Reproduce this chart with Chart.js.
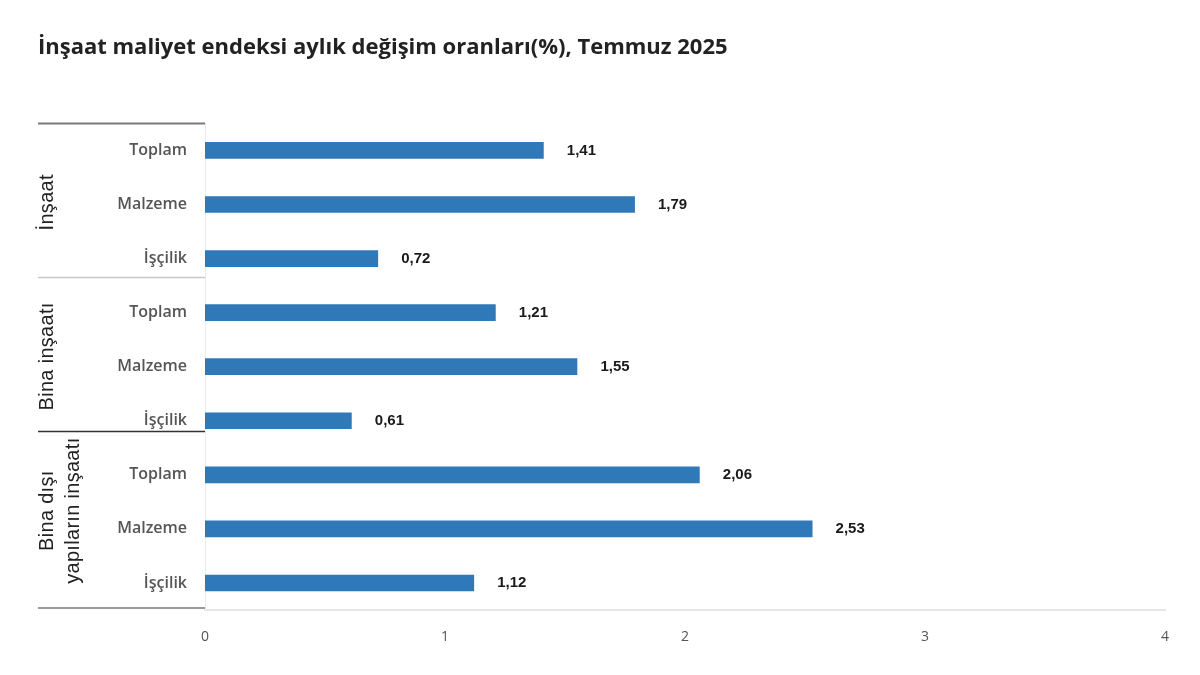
<!DOCTYPE html>
<html>
<head>
<meta charset="utf-8">
<script src="https://cdn.jsdelivr.net/npm/chart.js@4.4.1/dist/chart.umd.min.js"></script>
<style>
  html, body { margin: 0; padding: 0; background: #fff; }
  #wrap { width: 1200px; height: 675px; position: relative; }
</style>
</head>
<body>
<div id="wrap"><canvas id="chart"></canvas></div>
<script>
// data
const groups = ["İnşaat", "Bina inşaatı", ["Bina dışı", "yapıların inşaatı"]];
const categories = ["Toplam", "Malzeme", "İşçilik", "Toplam", "Malzeme", "İşçilik", "Toplam", "Malzeme", "İşçilik"];
const values = [1.41, 1.79, 0.72, 1.21, 1.55, 0.61, 2.06, 2.53, 1.12];
const xTicks = [0, 1, 2, 3, 4];

const perGroup = 3;

// value labels to the right of each bar
const barLabels = {
  id: "barLabels",
  afterDatasetsDraw(chart) {
    const ctx = chart.ctx;
    const meta = chart.getDatasetMeta(0);
    ctx.save();
    ctx.font = "bold 15px 'Liberation Sans', Arial, sans-serif";
    ctx.fillStyle = "#1a1a1a";
    ctx.textAlign = "center";
    ctx.textBaseline = "middle";
    meta.data.forEach((bar, i) => {
      ctx.fillText(values[i].toFixed(2).replace(".", ","), bar.x + 38, bar.y);
    });
    ctx.restore();
  }
};

// text with a bit of spacing between letters, centred on 0
function spacedText(ctx, text, y, gap) {
  const chars = Array.from(text);
  const widths = chars.map(c => ctx.measureText(c).width);
  const total = widths.reduce((a, b) => a + b, 0) + gap * (chars.length - 1);
  let x = -total / 2;
  chars.forEach((c, i) => {
    ctx.fillText(c, x, y);
    x += widths[i] + gap;
  });
}

// group labels + separator lines on the left
const groupAxis = {
  id: "groupAxis",
  afterDraw(chart) {
    const ctx = chart.ctx;
    const y = chart.scales.y;
    const area = chart.chartArea;
    const left = 38;
    const step = y.getPixelForValue(1) - y.getPixelForValue(0);
    // separators sit a bit below the last bar of each group, like the original
    const offs = [0, 0.35, 0.2];
    const edges = [area.top];
    for (let g = 1; g < groups.length; g++) {
      edges.push(y.getPixelForValue(g * perGroup - 1) + step * offs[g]);
    }
    edges.push(area.bottom - 2);
    const lineColors = ["#7a7a7a", "#c8c8c8", "#333333", "#9a9a9a"];
    const lineWidths = [2, 1.5, 1.5, 2];
    ctx.save();
    edges.forEach((ey, i) => {
      ctx.beginPath();
      ctx.strokeStyle = lineColors[i];
      ctx.lineWidth = lineWidths[i];
      ctx.moveTo(left, ey);
      ctx.lineTo(area.left, ey);
      ctx.stroke();
    });
    ctx.font = "20px 'Liberation Sans', Arial, sans-serif";
    ctx.fillStyle = "#222";
    ctx.textAlign = "left";
    ctx.textBaseline = "middle";
    groups.forEach((g, i) => {
      const lines = Array.isArray(g) ? g : [g];
      const cy = (edges[i] + edges[i + 1]) / 2 + (lines.length > 1 ? -9 : 2);
      ctx.save();
      ctx.translate(47, cy);
      ctx.rotate(-Math.PI / 2);
      lines.forEach((t, k) => spacedText(ctx, t, k * 26, 0.3));
      ctx.restore();
    });
    ctx.restore();
  }
};

new Chart(document.getElementById("chart"), {
  type: "bar",
  data: {
    labels: categories,
    datasets: [{
      data: values,
      backgroundColor: "#2f79b9",
      borderWidth: 0,
      barThickness: 16
    }]
  },
  options: {
    indexAxis: "y",
    responsive: true,
    maintainAspectRatio: false,
    animation: false,
    layout: { padding: { left: 38, right: 35, top: 0, bottom: 0 } },
    plugins: {
      legend: { display: false },
      tooltip: { enabled: false },
      title: {
        display: true,
        text: "İnşaat maliyet endeksi aylık değişim oranları(%), Temmuz 2025",
        align: "start",
        color: "#222",
        font: { family: "'Open Sans', sans-serif", size: 22, weight: "bold", lineHeight: 1.2 },
        padding: { top: 35, bottom: 62 }
      }
    },
    scales: {
      x: {
        min: 0,
        max: 4,
        afterBuildTicks(scale) { scale.ticks = xTicks.map(v => ({ value: v })); },
        afterFit(scale) { scale.height = 65; },
        grid: { display: false, drawTicks: false },
        border: { display: true, color: "#e6e6e6", width: 2 },
        ticks: { color: "#555", padding: 19, font: { family: "'Open Sans', sans-serif", size: 14 } }
      },
      y: {
        afterFit(scale) { scale.width = 167; },
        grid: { display: false, drawTicks: false },
        border: { display: true, color: "#ececec", width: 1 },
        ticks: { color: "#555", padding: 18, font: { family: "'Open Sans', sans-serif", size: 16, weight: 600 } }
      }
    }
  },
  plugins: [barLabels, groupAxis]
});
</script>
</body>
</html>
